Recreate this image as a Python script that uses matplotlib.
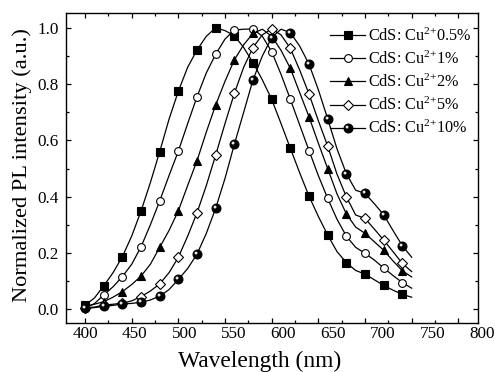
import numpy as np
import matplotlib
matplotlib.use("Agg")
import matplotlib.pyplot as plt
from matplotlib.path import Path
from matplotlib.ticker import MultipleLocator
from matplotlib.legend_handler import HandlerTuple
from matplotlib import transforms

plt.rcParams['font.family'] = ['Liberation Serif', 'DejaVu Serif']
plt.rcParams['mathtext.fontset'] = 'custom'
plt.rcParams['mathtext.rm'] = 'Liberation Serif'
plt.rcParams['mathtext.it'] = 'Liberation Serif:italic'

# ---------------- data ----------------
wavelength = [400, 410, 420, 430, 440, 450, 460, 470, 480, 490, 500, 510, 520,
              530, 540, 550, 560, 570, 580, 590, 600, 610, 620, 630, 640, 650,
              660, 670, 680, 690, 700, 710, 720, 730, 740, 750]

cu_0p5 = [0.015, 0.040, 0.083, 0.130, 0.187, 0.260, 0.349, 0.450, 0.560, 0.675,
          0.775, 0.860, 0.921, 0.970, 1.000, 0.990, 0.972, 0.930, 0.876, 0.815,
          0.746, 0.660, 0.572, 0.485, 0.402, 0.330, 0.264, 0.205, 0.166, 0.138,
          0.125, 0.105, 0.085, 0.068, 0.053, 0.043]
cu_1 = [0.005, 0.020, 0.051, 0.080, 0.116, 0.160, 0.222, 0.300, 0.385, 0.475,
        0.562, 0.660, 0.755, 0.840, 0.906, 0.960, 0.992, 0.995, 0.996, 0.970,
        0.915, 0.835, 0.746, 0.655, 0.564, 0.475, 0.394, 0.320, 0.260, 0.220,
        0.199, 0.175, 0.147, 0.120, 0.095, 0.075]
cu_2 = [0.010, 0.018, 0.027, 0.043, 0.063, 0.088, 0.118, 0.160, 0.220, 0.280,
        0.350, 0.440, 0.528, 0.630, 0.726, 0.810, 0.886, 0.940, 0.980, 0.995,
        0.970, 0.920, 0.856, 0.770, 0.684, 0.590, 0.500, 0.410, 0.339, 0.292,
        0.270, 0.240, 0.210, 0.172, 0.137, 0.115]
cu_5 = [0.005, 0.008, 0.015, 0.018, 0.022, 0.030, 0.045, 0.065, 0.090, 0.130,
        0.185, 0.260, 0.343, 0.440, 0.548, 0.660, 0.767, 0.860, 0.930, 0.975,
        0.996, 0.975, 0.927, 0.850, 0.765, 0.670, 0.580, 0.480, 0.400, 0.335,
        0.323, 0.285, 0.246, 0.205, 0.163, 0.134]
cu_10 = [0.003, 0.006, 0.010, 0.014, 0.019, 0.021, 0.025, 0.033, 0.047, 0.070,
         0.106, 0.145, 0.196, 0.270, 0.359, 0.465, 0.586, 0.700, 0.815, 0.900,
         0.965, 0.995, 0.983, 0.935, 0.871, 0.780, 0.677, 0.570, 0.482, 0.423,
         0.412, 0.375, 0.336, 0.280, 0.226, 0.185]

series_labels = ['CdS: Cu$^{2{+}}$0.5%', 'CdS: Cu$^{2{+}}$1%', 'CdS: Cu$^{2{+}}$2%',
                 'CdS: Cu$^{2{+}}$5%', 'CdS: Cu$^{2{+}}$10%']
x_tick_values = [400, 450, 500, 550, 600, 650, 700, 750, 800]
x_tick_labels = ['400', '450', '500', '550', '600', '650', '700', '750', '800']
y_tick_values = [0.0, 0.2, 0.4, 0.6, 0.8, 1.0]
x_title = 'Wavelength (nm)'
y_title = 'Normalized PL intensity (a.u.)'

# ---------------- styles ----------------
# highlight spot for the shaded "ball" marker (offset small disc, upper-left)
t = np.linspace(0, 2 * np.pi, 40)
spot = Path(np.column_stack([-1 + np.cos(t), 1 + np.sin(t)]), closed=True)

styles = [
    dict(marker='s', mfc='black', ms=5.2),
    dict(marker='o', mfc='white', ms=5.6),
    dict(marker='^', mfc='black', ms=6.2),
    dict(marker='D', mfc='white', ms=5.0),
    dict(marker='o', mfc='black', ms=6.4),
]

fig = plt.figure(figsize=(4.95, 3.72), dpi=100)
ax = fig.add_axes([66 / 495, 1 - 323.3 / 372, 412 / 495, 310 / 372])
renderer = fig.canvas.get_renderer()


def fit_size(s, target_px, base=12.0):
    tt = fig.text(0, 0, s, fontsize=base)
    w = tt.get_window_extent(renderer).width
    tt.remove()
    return base * target_px / w


handles = []
for ys, lab, st in zip([cu_0p5, cu_1, cu_2, cu_5, cu_10], series_labels, styles):
    ln, = ax.plot(wavelength, ys, color='black', lw=0.9, markevery=2,
                  mec='black', mew=0.8, label=lab, **st)
    handles.append(ln)
hl, = ax.plot(wavelength, cu_10, ls='none', marker=spot, ms=4.2, mfc='#e6e6e6',
              mew=0, markevery=2)
handles[-1] = (handles[-1], hl)

ax.set_xlim(379.6, 821.1)
ax.set_ylim(-0.0497, 1.0515)

tick_fs = fit_size('400', 25.5)
ax.set_xticks(x_tick_values)
ax.xaxis.set_minor_locator(MultipleLocator(25))
ax.set_yticks(y_tick_values)
ax.set_yticklabels([f'{v:.1f}' for v in y_tick_values])
ax.yaxis.set_minor_locator(MultipleLocator(0.1))
ax.tick_params(which='both', direction='in', top=True, right=True,
               width=0.9, labelsize=tick_fs, labelbottom=False)
ax.tick_params(which='major', length=3.6)
ax.tick_params(which='minor', length=2.4)
ax.tick_params(axis='y', pad=5)
for sp in ax.spines.values():
    sp.set_linewidth(1.0)

lab_tr = transforms.offset_copy(ax.transAxes, fig=fig, x=0, y=-3, units='dots')
for i, s in enumerate(x_tick_labels):
    px = 85 + i * 49.6
    ax.text((px - 66) / 412, 0, s, transform=lab_tr, ha='center', va='top',
            fontsize=tick_fs)

ax.set_xlabel(x_title, fontsize=fit_size(x_title, 163))
ax.xaxis.set_label_coords((260 - 66) / 412, -0.088)
ax.set_ylabel(y_title, fontsize=fit_size(y_title, 273))
ax.yaxis.set_label_coords(-0.083, 0.512)

leg_fs = fit_size(series_labels[0], 103)
leg_px = leg_fs * 100 / 72
ax.legend(handles, series_labels, handler_map={tuple: HandlerTuple(ndivide=1, pad=0)},
          loc='upper left', bbox_to_anchor=((330 - 66) / 412, 1 - (27.5 - 13.3) / 310),
          frameon=False, fontsize=leg_fs, handlelength=35 / leg_px,
          handletextpad=3 / leg_px, labelspacing=0.36, borderpad=0, borderaxespad=0)

fig.savefig('out.png', dpi=100)
